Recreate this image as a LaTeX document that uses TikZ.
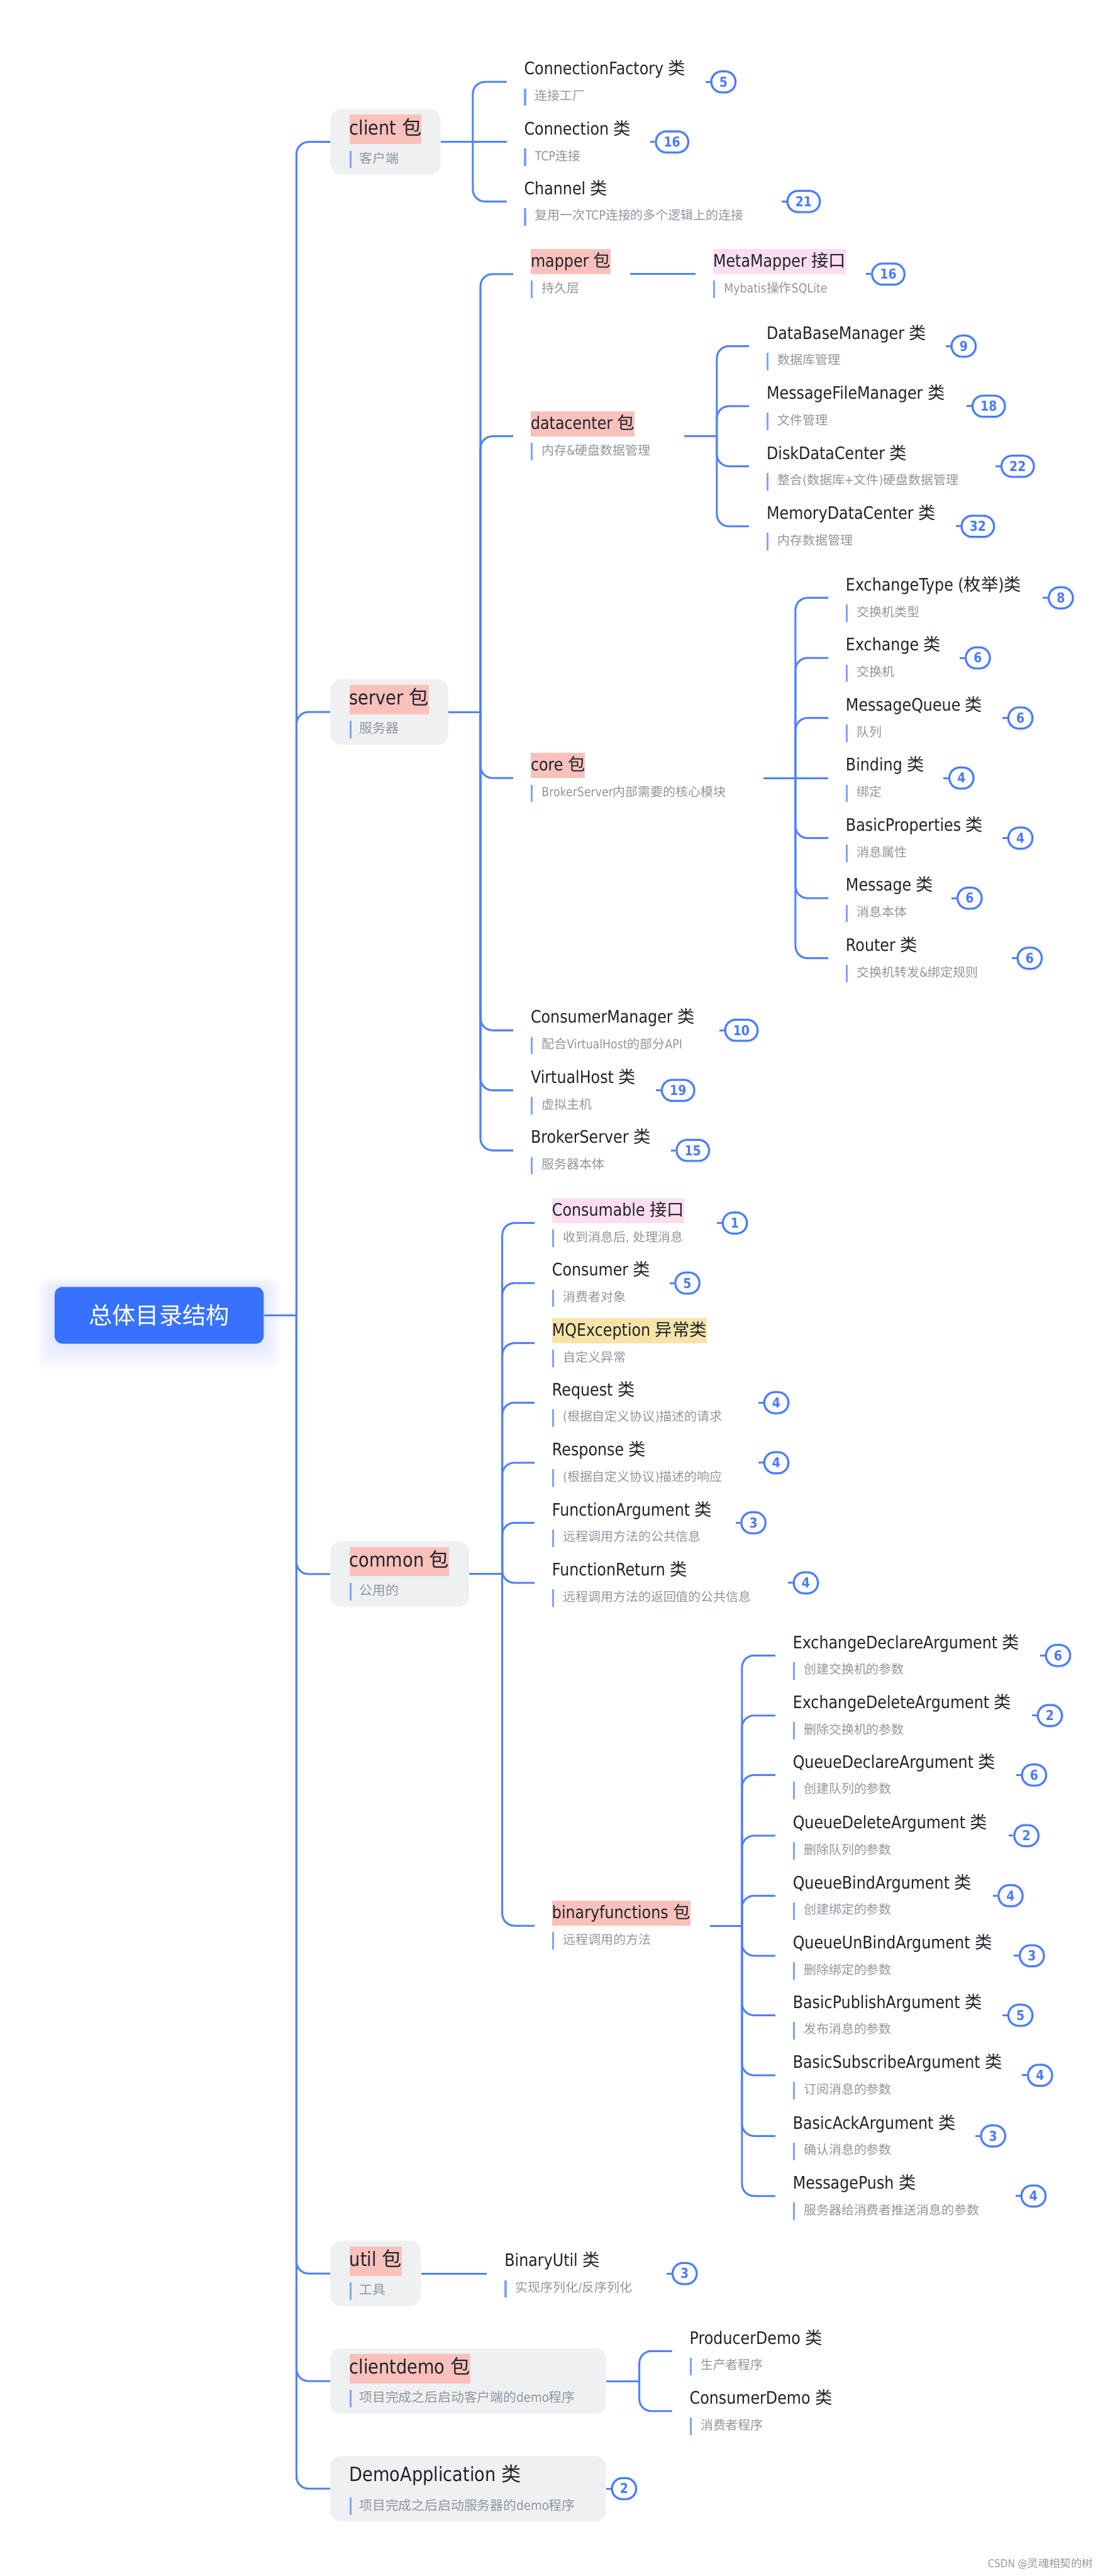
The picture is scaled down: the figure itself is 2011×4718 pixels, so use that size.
\documentclass[tikz,border=0pt]{standalone}
\usepackage{fontspec}
\setmainfont[FakeStretch=0.87]{DejaVu Sans}
\newfontfamily\cjkfont{Noto Sans CJK SC}
\ifdefined\newXeTeXintercharclass
  \newXeTeXintercharclass\mycjkclass
\else
  \chardef\mycjkclass=3
\fi
\newcount\mycnt
\mycnt="4E00
\loop
  \XeTeXcharclass\mycnt=\mycjkclass
  \advance\mycnt by 1
\ifnum\mycnt<"A000\relax\repeat
\XeTeXinterchartoks 0 \mycjkclass={\cjkfont}
\XeTeXinterchartoks 4095 \mycjkclass={\cjkfont}
\XeTeXinterchartoks \mycjkclass 0={\rmfamily}
\XeTeXinterchartoks \mycjkclass 4095={\rmfamily}
\XeTeXinterchartokenstate=1

\definecolor{linec}{RGB}{80,128,255}
\definecolor{barc}{RGB}{128,162,255}
\definecolor{badgec}{RGB}{72,122,255}
\definecolor{boxc}{RGB}{239,240,242}
\definecolor{salmonc}{RGB}{250,193,188}
\definecolor{pinkc}{RGB}{253,222,240}
\definecolor{yellowc}{RGB}{248,228,168}
\definecolor{titlec}{RGB}{31,35,41}
\definecolor{subc}{RGB}{143,149,158}
\definecolor{rootc}{RGB}{55,114,255}

\tikzset{
  conn/.style={draw=linec, line width=3.5pt},
  curved/.style={conn, rounded corners=22pt},
  subbar/.style={draw=barc, line width=4pt},
  ttl/.style={anchor=base west, inner sep=0pt, text=titlec, font=\fontsize{31.5}{36}\selectfont},
  hl/.style={fill=#1, text height=33pt, text depth=13pt},
  pttl/.style={anchor=base west, inner sep=0pt, text=titlec, font=\fontsize{36}{40}\selectfont},
  phl/.style={fill=salmonc, text height=37pt, text depth=17pt},
  subt/.style={anchor=base west, inner sep=0pt, text=subc, font=\fontsize{23}{28}\selectfont},
  psubt/.style={anchor=base west, inner sep=0pt, text=subc, font=\fontsize{24}{28}\selectfont},
  badge/.style={draw=badgec, line width=3.5pt, fill=white, rounded corners=19pt,
    minimum height=38.5pt, minimum width=38.5pt, inner xsep=14.5pt, inner ysep=0pt,
    text height=18pt, text depth=0pt, text=badgec, font=\bfseries\fontsize{25}{25}\selectfont,
    preaction={draw=linec!10, line width=8pt}},
  pbox/.style={fill=boxc, rounded corners=20pt, minimum height=120pt, inner sep=0pt},
  rootbox/.style={fill=rootc, rounded corners=14pt, minimum width=383pt, minimum height=104pt,
    text=white, font=\fontsize{43}{48}\selectfont, inner sep=0pt},
}

% #1 extra title style, #2 name, #3 junction, #4 path op, #5 X, #6 y, #7 title, #8 subtitle
\newcommand\mmleaf[8][]{%
  \coordinate (#2) at ({#5-32},#6);
  \draw[curved] (#3) #4 (#2);
  \node[ttl,#1] (#2-t) at (#5,{#6-13}) {#7};
  \draw[subbar] ({#5+2},{#6+12}) -- ({#5+2},{#6+44});
  \node[subt] (#2-s) at ({#5+20},{#6+34}) {#8};
}
% #1 name, #2 x, #3 y, #4 number
\newcommand\mmbadge[4]{%
  \node[badge] (#1-b) at (#2,#3) {#4};
  \draw[conn] (#1-b.west) -- ++(-9,0);
}
% #1 name, #2 junction, #3 op, #4 cx, #5 width, #6 y, #7 title style, #8 title, #9 subtitle
\newcommand\mmpkg[9]{%
  \node[pbox, minimum width=#5pt] (#1) at (#4,#6) {};
  \draw[curved] (#2) #3 (#1.west);
  \node[pttl,#7] (#1-t) at (640,{#6-13}) {#8};
  \draw[subbar] (642,{#6+16}) -- (642,{#6+48});
  \node[psubt] (#1-s) at (658,{#6+39}) {#9};
}

\begin{document}
\begin{tikzpicture}[x=1pt,y=-1pt]
\useasboundingbox (0,0) rectangle (2011,4718);
\fill[white] (0,0) rectangle (2011,4718);

% root with soft glow
\foreach \i in {1,...,8} {
  \fill[rootc, opacity=0.014, rounded corners=20pt]
    ({100-\i*4},{2357-\i*4+\i*2}) rectangle ({483+\i*4},{2461+\i*4+\i*2});
}
\node[rootbox] (root) at (291.5,2409) {总体目录结构};
\coordinate (j0) at (543,2409);
\draw[conn] (root.east) -- (j0);

% ---------------- client
\mmpkg{client}{j0}{|-}{706}{202}{260}{phl}{client 包}{客户端}
\coordinate (jclient) at (866,260);
\draw[conn] (client.east) -- (jclient);
\mmleaf{cf}{jclient}{|-}{960}{150}{ConnectionFactory 类}{连接工厂}
\mmbadge{cf}{1325}{150}{5}
\mmleaf{cnx}{jclient}{--}{960}{260}{Connection 类}{TCP连接}
\mmbadge{cnx}{1231}{260}{16}
\mmleaf{chan}{jclient}{|-}{960}{369}{Channel 类}{复用一次TCP连接的多个逻辑上的连接}
\mmbadge{chan}{1472}{369}{21}

% ---------------- server
\mmpkg{server}{j0}{|-}{713}{216}{1304}{phl}{server 包}{服务器}
\coordinate (jserver) at (880,1304);
\draw[conn] (server.east) -- (jserver);

\mmleaf[hl=salmonc]{mapper}{jserver}{|-}{972}{502}{mapper 包}{持久层}
\coordinate (mapper-o) at (1154,502);
\mmleaf[hl=pinkc]{metamapper}{mapper-o}{--}{1306}{502}{MetaMapper 接口}{Mybatis操作SQLite}
\mmbadge{metamapper}{1627}{502}{16}

\mmleaf[hl=salmonc]{dc}{jserver}{|-}{972}{799}{datacenter 包}{内存\&硬盘数据管理}
\coordinate (dc-o) at (1253,799);
\coordinate (jdc) at (1313,799);
\draw[conn] (dc-o) -- (jdc);
\mmleaf{dbm}{jdc}{|-}{1404}{634}{DataBaseManager 类}{数据库管理}
\mmbadge{dbm}{1765}{634}{9}
\mmleaf{mfm}{jdc}{|-}{1404}{744}{MessageFileManager 类}{文件管理}
\mmbadge{mfm}{1811}{744}{18}
\mmleaf{ddc}{jdc}{|-}{1404}{854}{DiskDataCenter 类}{整合(数据库+文件)硬盘数据管理}
\mmbadge{ddc}{1864}{854}{22}
\mmleaf{mdc}{jdc}{|-}{1404}{964}{MemoryDataCenter 类}{内存数据管理}
\mmbadge{mdc}{1791}{964}{32}

\mmleaf[hl=salmonc]{core}{jserver}{|-}{972}{1425}{core 包}{BrokerServer内部需要的核心模块}
\coordinate (core-o) at (1398,1425);
\coordinate (jcore) at (1457,1425);
\draw[conn] (core-o) -- (jcore);
\mmleaf{et}{jcore}{|-}{1549}{1095}{ExchangeType (枚举)类}{交换机类型}
\mmbadge{et}{1943}{1095}{8}
\mmleaf{ex}{jcore}{|-}{1549}{1205}{Exchange 类}{交换机}
\mmbadge{ex}{1791}{1205}{6}
\mmleaf{mq}{jcore}{|-}{1549}{1315}{MessageQueue 类}{队列}
\mmbadge{mq}{1869}{1315}{6}
\mmleaf{bd}{jcore}{--}{1549}{1425}{Binding 类}{绑定}
\mmbadge{bd}{1761}{1425}{4}
\mmleaf{bp}{jcore}{|-}{1549}{1535}{BasicProperties 类}{消息属性}
\mmbadge{bp}{1869}{1535}{4}
\mmleaf{msg}{jcore}{|-}{1549}{1645}{Message 类}{消息本体}
\mmbadge{msg}{1776}{1645}{6}
\mmleaf{rt}{jcore}{|-}{1549}{1755}{Router 类}{交换机转发\&绑定规则}
\mmbadge{rt}{1886}{1755}{6}

\mmleaf{cm}{jserver}{|-}{972}{1887}{ConsumerManager 类}{配合VirtualHost的部分API}
\mmbadge{cm}{1358}{1887}{10}
\mmleaf{vh}{jserver}{|-}{972}{1997}{VirtualHost 类}{虚拟主机}
\mmbadge{vh}{1242}{1997}{19}
\mmleaf{bs}{jserver}{|-}{972}{2107}{BrokerServer 类}{服务器本体}
\mmbadge{bs}{1269}{2107}{15}

% ---------------- common
\mmpkg{common}{j0}{|-}{732}{254}{2883}{phl}{common 包}{公用的}
\coordinate (jcommon) at (920,2883);
\draw[conn] (common.east) -- (jcommon);
\mmleaf[hl=pinkc]{csb}{jcommon}{|-}{1011}{2240}{Consumable 接口}{收到消息后, 处理消息}
\mmbadge{csb}{1346}{2240}{1}
\mmleaf{csr}{jcommon}{|-}{1011}{2350}{Consumer 类}{消费者对象}
\mmbadge{csr}{1259}{2350}{5}
\mmleaf[hl=yellowc]{mqe}{jcommon}{|-}{1011}{2460}{MQException 异常类}{自定义异常}
\mmleaf{req}{jcommon}{|-}{1011}{2569}{Request 类}{(根据自定义协议)描述的请求}
\mmbadge{req}{1422}{2569}{4}
\mmleaf{rsp}{jcommon}{|-}{1011}{2679}{Response 类}{(根据自定义协议)描述的响应}
\mmbadge{rsp}{1422}{2679}{4}
\mmleaf{fa}{jcommon}{|-}{1011}{2789}{FunctionArgument 类}{远程调用方法的公共信息}
\mmbadge{fa}{1380}{2789}{3}
\mmleaf{fr}{jcommon}{|-}{1011}{2899}{FunctionReturn 类}{远程调用方法的返回值的公共信息}
\mmbadge{fr}{1476}{2899}{4}

\mmleaf[hl=salmonc]{bf}{jcommon}{|-}{1011}{3527}{binaryfunctions 包}{远程调用的方法}
\coordinate (bf-o) at (1300,3527);
\coordinate (jbf) at (1359,3527);
\draw[conn] (bf-o) -- (jbf);
\mmleaf{eda}{jbf}{|-}{1452}{3032}{ExchangeDeclareArgument 类}{创建交换机的参数}
\mmbadge{eda}{1938}{3032}{6}
\mmleaf{edl}{jbf}{|-}{1452}{3142}{ExchangeDeleteArgument 类}{删除交换机的参数}
\mmbadge{edl}{1923}{3142}{2}
\mmleaf{qda}{jbf}{|-}{1452}{3251}{QueueDeclareArgument 类}{创建队列的参数}
\mmbadge{qda}{1894}{3251}{6}
\mmleaf{qdl}{jbf}{|-}{1452}{3362}{QueueDeleteArgument 类}{删除队列的参数}
\mmbadge{qdl}{1880}{3362}{2}
\mmleaf{qba}{jbf}{|-}{1452}{3472}{QueueBindArgument 类}{创建绑定的参数}
\mmbadge{qba}{1851}{3472}{4}
\mmleaf{qua}{jbf}{|-}{1452}{3582}{QueueUnBindArgument 类}{删除绑定的参数}
\mmbadge{qua}{1890}{3582}{3}
\mmleaf{bpa}{jbf}{|-}{1452}{3691}{BasicPublishArgument 类}{发布消息的参数}
\mmbadge{bpa}{1869}{3691}{5}
\mmleaf{bsa}{jbf}{|-}{1452}{3801}{BasicSubscribeArgument 类}{订阅消息的参数}
\mmbadge{bsa}{1905}{3801}{4}
\mmleaf{baa}{jbf}{|-}{1452}{3912}{BasicAckArgument 类}{确认消息的参数}
\mmbadge{baa}{1819}{3912}{3}
\mmleaf{mp}{jbf}{|-}{1452}{4022}{MessagePush 类}{服务器给消费者推送消息的参数}
\mmbadge{mp}{1893}{4022}{4}

% ---------------- util
\mmpkg{util}{j0}{|-}{688}{166}{4164}{phl}{util 包}{工具}
\mmleaf{bu}{util.east}{--}{924}{4164}{BinaryUtil 类}{实现序列化/反序列化}
\mmbadge{bu}{1254}{4164}{3}

% ---------------- clientdemo
\mmpkg{cdemo}{j0}{|-}{857.5}{505}{4361}{phl}{clientdemo 包}{项目完成之后启动客户端的demo程序}
\coordinate (jcdemo) at (1171,4361);
\draw[conn] (cdemo.east) -- (jcdemo);
\mmleaf{pd}{jcdemo}{|-}{1263}{4306}{ProducerDemo 类}{生产者程序}
\mmleaf{cd}{jcdemo}{|-}{1263}{4416}{ConsumerDemo 类}{消费者程序}

% ---------------- DemoApplication
\mmpkg{dapp}{j0}{|-}{857.5}{505}{4558}{}{DemoApplication 类}{项目完成之后启动服务器的demo程序}
\mmbadge{dapp}{1143}{4558}{2}

% watermark
\node[anchor=base east, inner sep=0pt, text=black!40, font=\fontsize{20}{24}\selectfont] (wm) at (2002,4702) {CSDN @灵魂相契的树};
\end{tikzpicture}
\end{document}
